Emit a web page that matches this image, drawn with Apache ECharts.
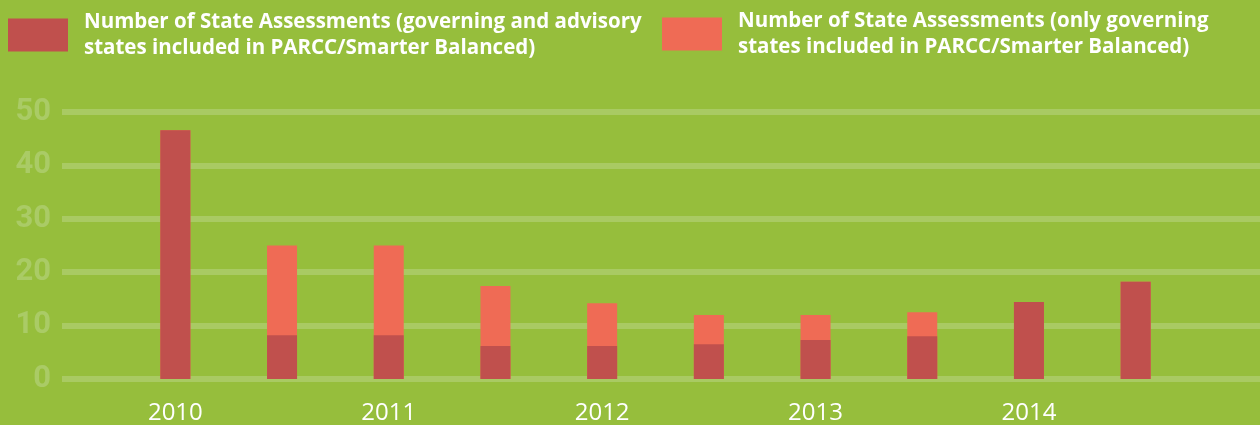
<!DOCTYPE html>
<html>
<head>
<meta charset="utf-8">
<script src="https://cdn.jsdelivr.net/npm/echarts@6/dist/echarts.min.js"></script>
<style>
  html, body { margin: 0; padding: 0; background: #96be3c; }
  #chart { width: 1260px; height: 425px; }
</style>
</head>
<body>
<div id="chart"></div>
<script>
var myChart = echarts.init(document.getElementById('chart'));

// one bar per half year, labels only on whole years
const periods = ['2010', '2010 H2', '2011', '2011 H2', '2012', '2012 H2', '2013', '2013 H2', '2014', '2014 H2'];
const withAdvisory = [46.6, 8.2, 8.2, 6.2, 6.2, 6.5, 7.3, 8, 14.4, 18.2];
const governingOnly = [46.6, 25, 25, 17.4, 14.2, 12, 12, 12.5, 14.4, 18.2];
const yTicks = [0, 10, 20, 30, 40, 50];

const nameAdvisory = 'Number of State Assessments (governing and advisory\nstates included in PARCC/Smarter Balanced)';
const nameGoverning = 'Number of State Assessments (only governing\nstates included in PARCC/Smarter Balanced)';

const legendText = {
  color: '#ffffff',
  fontSize: 20.5,
  fontWeight: 'bold',
  fontFamily: 'Open Sans',
  lineHeight: 26,
  padding: [0, 0, 0, 11]
};

var option = {
  backgroundColor: '#96be3c',
  animation: false,
  legend: [
    {
      left: 3, top: 4,
      itemWidth: 60, itemHeight: 33,
      icon: 'rect',
      selectedMode: false,
      data: [nameAdvisory],
      textStyle: legendText
    },
    {
      left: 657, top: 3,
      itemWidth: 60, itemHeight: 33,
      icon: 'rect',
      selectedMode: false,
      data: [nameGoverning],
      textStyle: legendText
    }
  ],
  grid: [
    // full width grid carries the gridlines and tick labels
    { left: 62, right: 0, top: 112, bottom: 46 },
    // bars sit in a narrower grid
    { left: 122, width: 1067, top: 112, bottom: 46 }
  ],
  xAxis: [
    { gridIndex: 0, type: 'category', data: periods, show: false },
    {
      gridIndex: 1,
      type: 'category',
      data: periods,
      axisLine: { show: false },
      axisTick: { show: false },
      axisLabel: {
        interval: 1,
        color: '#ffffff',
        fontSize: 24,
        fontFamily: 'Open Sans',
        margin: 22
      }
    }
  ],
  yAxis: [
    {
      gridIndex: 0,
      type: 'value',
      min: yTicks[0],
      max: yTicks[yTicks.length - 1],
      interval: 10,
      axisLine: { show: false },
      axisTick: { show: false },
      axisLabel: {
        color: '#aacb66',
        fontSize: 31,
        fontWeight: 'bold',
        fontFamily: 'Roboto',
        margin: 11
      },
      splitLine: { lineStyle: { color: '#a9ca63', width: 6 } }
    },
    {
      gridIndex: 1,
      type: 'value',
      min: yTicks[0],
      max: yTicks[yTicks.length - 1],
      interval: 10,
      show: false,
      splitLine: { show: false }
    }
  ],
  series: [
    {
      name: nameGoverning,
      type: 'bar',
      xAxisIndex: 1,
      yAxisIndex: 1,
      barWidth: 30,
      barGap: '-100%',
      itemStyle: { color: '#ef6b55' },
      data: governingOnly
    },
    {
      name: nameAdvisory,
      type: 'bar',
      xAxisIndex: 1,
      yAxisIndex: 1,
      barWidth: 30,
      barGap: '-100%',
      itemStyle: { color: '#c0504d' },
      data: withAdvisory
    }
  ]
};

myChart.setOption(option);
</script>
</body>
</html>
